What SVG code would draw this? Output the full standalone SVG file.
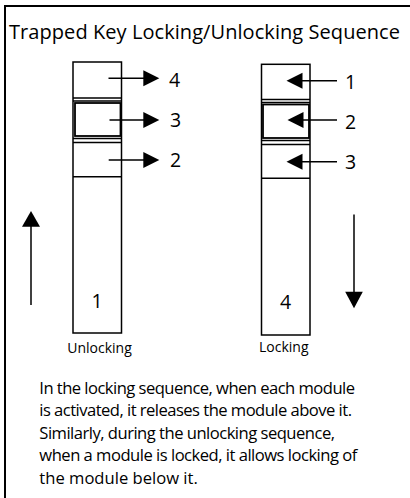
<svg xmlns="http://www.w3.org/2000/svg" width="410" height="498" viewBox="0 0 410 498">
<style>
text{font-family:"Open Sans","Liberation Sans",sans-serif;fill:#000}
.t{font-size:20px}
.n{font-size:19.5px}
.s{font-size:14px}
.b{font-size:16.6px}
.ln{stroke:#000;stroke-width:1.5;fill:none}
.thk{stroke:#000;stroke-width:2;fill:none}
.bx{stroke:#000;stroke-width:1.8;fill:none}
.ah{fill:#000;stroke:none}
</style>
<rect width="410" height="498" fill="#fff"/>
<path d="M5,498 V6 H410" class="thk"/>
<text class="t" x="9" y="39" textLength="391">Trapped Key Locking/Unlocking Sequence</text>

<g id="unlocking-column">
<rect x="73" y="62" width="48.5" height="271" class="ln"/>
<path d="M73,98 H121.5 M73,101 H121.5 M73,138.5 H121.5 M73,142.5 H121.5 M73,176.7 H121.5" class="ln"/>
<rect x="75" y="103" width="45.5" height="33" class="bx"/>
<text class="n" x="97.2" y="308" text-anchor="middle">1</text>
<text class="s" x="99.5" y="352.5" text-anchor="middle">Unlocking</text>
</g>

<g id="locking-column">
<rect x="261.5" y="64.3" width="48.5" height="270.7" class="ln"/>
<path d="M261.5,99.5 H310 M261.5,102.5 H310 M261.5,140.5 H310 M261.5,144.5 H310 M261.5,178.3 H310" class="ln"/>
<rect x="263" y="104.5" width="46" height="33.5" class="bx"/>
<text class="n" x="285.5" y="309" text-anchor="middle">4</text>
<text class="s" x="283.8" y="351.5" text-anchor="middle">Locking</text>
</g>

<g id="labels">
<text class="n" x="169" y="86.5">4</text>
<text class="n" x="170" y="127.3">3</text>
<text class="n" x="170" y="166.7">2</text>
<text class="n" x="345" y="89">1</text>
<text class="n" x="345" y="129.3">2</text>
<text class="n" x="345" y="169.3">3</text>
</g>

<g id="connectors">
<path d="M108.5,78.3 H145 M109.5,120 H145 M108.7,160 H145" class="ln"/>
<polygon class="ah" points="143.3,70.3 159.3,78.3 143.3,86.3"/>
<polygon class="ah" points="143.3,112 159.3,120 143.3,128"/>
<polygon class="ah" points="143.3,152 159.3,160 143.3,168"/>
<path d="M337,80.7 H301 M337,120 H302 M337,161.7 H301" class="ln"/>
<polygon class="ah" points="302.5,72.7 286.5,80.7 302.5,88.7"/>
<polygon class="ah" points="303.5,112 287.5,120 303.5,128"/>
<polygon class="ah" points="302.5,153.7 286.5,161.7 302.5,169.7"/>
<path d="M31,305 V224" class="ln"/>
<polygon class="ah" points="22,226.7 31,211 40,226.7"/>
<path d="M354,214.5 V293" class="ln"/>
<polygon class="ah" points="345.2,291.7 354,308.3 362.8,291.7"/>
</g>

<g id="description">
<text class="b" x="39.3" y="393.5" textLength="315.7">In the locking sequence, when each module</text>
<text class="b" x="39.3" y="416" textLength="312.7">is activated, it releases the module above it.</text>
<text class="b" x="39.3" y="438.7" textLength="295.7">Similarly, during the unlocking sequence,</text>
<text class="b" x="39.3" y="461.3" textLength="318">when a module is locked, it allows locking of</text>
<text class="b" x="39.3" y="484">the module below it.</text>
</g>
</svg>
